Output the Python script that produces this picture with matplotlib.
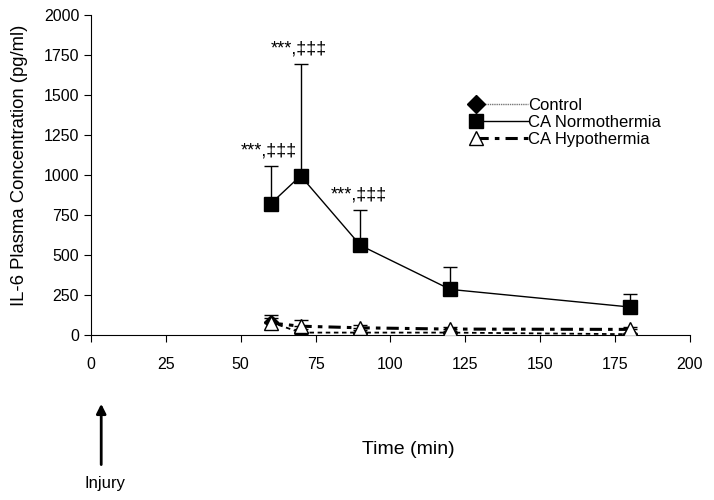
import numpy as np
import matplotlib.pyplot as plt
from matplotlib.lines import Line2D
from matplotlib.legend_handler import HandlerLine2D

plt.rcParams["font.family"] = "Liberation Sans"

# sampling times (min)
times = [60, 70, 90, 120, 180]

control = [80, 15, 15, 15, 5]
control_err = [25, 20, 15, 10, 10]

normo = [820, 995, 560, 285, 175]
normo_err = [235, 700, 220, 140, 80]

hypo = [75, 55, 45, 37, 35]
hypo_err = [50, 38, 20, 15, 15]

sig_times = [60, 70, 90]
sig_label = "***,\u2021\u2021\u2021"


class MarkerLeftHandler(HandlerLine2D):
    # legend entry with the marker at the left end of the line
    def create_artists(self, legend, orig_handle, xdescent, ydescent,
                       width, height, fontsize, trans):
        x0 = -xdescent + 0.12 * width
        x1 = -xdescent + width
        y = (height - ydescent) / 2
        line = Line2D([x0, x1], [y, y])
        self.update_prop(line, orig_handle, legend)
        line.set_marker("None")
        mark = Line2D([x0], [y], linestyle="None")
        self.update_prop(mark, orig_handle, legend)
        mark.set_linestyle("None")
        line.set_transform(trans)
        mark.set_transform(trans)
        return [line, mark]


fig = plt.figure(figsize=(7.14, 5.0), dpi=100)
ax = fig.add_axes([0.1275, 0.33, 0.8385, 0.64])

ctrl_ls = (0, (2.5, 2))
hypo_ls = (0, (4, 2, 1.5, 2))

ax.errorbar(times, normo, yerr=[np.zeros(len(normo)), normo_err], color="black",
            lw=1, marker="s", ms=9.5, mfc="black", mec="black", capsize=5,
            elinewidth=1, zorder=3)
ax.errorbar(times, control, yerr=[np.zeros(len(control)), control_err], color="black",
            lw=1.3, ls=ctrl_ls, marker="D", ms=7, mfc="black", mec="black",
            capsize=5, elinewidth=1, zorder=2)
ax.errorbar(times, hypo, yerr=[np.zeros(len(hypo)), hypo_err], color="black",
            lw=2.2, ls=hypo_ls, marker="^", ms=10, mfc="white", mec="black",
            capsize=5, elinewidth=1, zorder=4)

for t in sig_times:
    i = times.index(t)
    ax.text(t - 0.5, normo[i] + normo_err[i] + 40, sig_label, ha="center",
            va="bottom", fontsize=13)

ax.set_xlim(0, 200)
ax.set_ylim(0, 2000)
ax.set_xticks(np.arange(0, 201, 25))
ax.set_yticks(np.arange(0, 2001, 250))
ax.tick_params(labelsize=11.5, direction="out", length=5)
ax.tick_params(axis="x", pad=11)
ax.spines["top"].set_visible(False)
ax.spines["right"].set_visible(False)

ax.set_ylabel("IL-6 Plasma Concentration (pg/ml)", fontsize=13.3)
ax.yaxis.set_label_coords(-0.105, 0.53)
ax.set_xlabel("Time (min)", fontsize=14)
ax.xaxis.set_label_coords(0.53, -0.33)

h_ctrl = Line2D([], [], color="#777777", lw=1, ls=(0, (1, 0.6)), marker="D", ms=9,
                mfc="black", mec="black")
h_normo = Line2D([], [], color="black", lw=1, marker="s", ms=10, mfc="black",
                 mec="black")
h_hypo = Line2D([], [], color="black", lw=2.2, ls=hypo_ls, marker="^", ms=10,
                mfc="white", mec="black")
ax.legend([h_ctrl, h_normo, h_hypo], ["Control", "CA Normothermia", "CA Hypothermia"],
          loc="upper left", bbox_to_anchor=(0.607, 0.787), frameon=False,
          fontsize=12, handlelength=3.5, handletextpad=0.0, labelspacing=0.12,
          handler_map={Line2D: MarkerLeftHandler()})

# injury marker below the axis
xfrac = ax.get_xaxis_transform()
ax.annotate("", xy=(3.4, -0.215), xytext=(3.4, -0.405), xycoords=xfrac,
            textcoords=xfrac,
            arrowprops=dict(arrowstyle="-|>", color="black", lw=2, mutation_scale=14,
                            shrinkA=0, shrinkB=0))
ax.text(4.5, -0.44, "Injury", transform=xfrac, ha="center", va="top", fontsize=12)

fig.savefig("out.png", dpi=100)
